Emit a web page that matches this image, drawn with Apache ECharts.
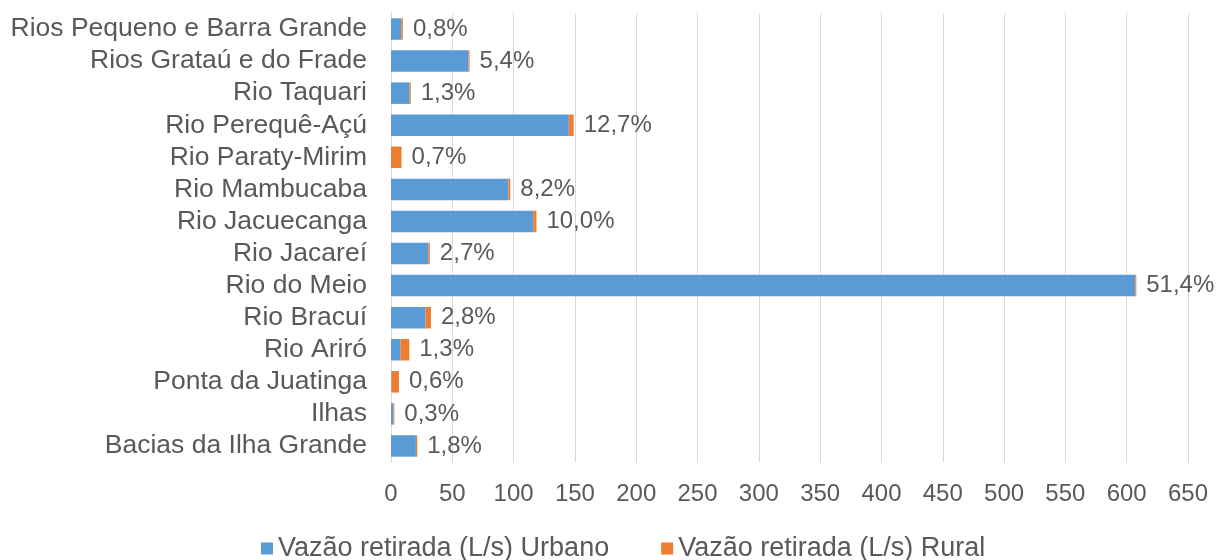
<!DOCTYPE html>
<html>
<head>
<meta charset="utf-8">
<script src="https://cdn.jsdelivr.net/npm/echarts@6/dist/echarts.min.js"></script>
<style>
  html, body { margin: 0; padding: 0; background: #fff; }
  #chart { width: 1220px; height: 560px; }
</style>
</head>
<body>
<div id="chart"></div>
<script>
// bacias, de cima para baixo
var categories = [
  'Rios Pequeno e Barra Grande',
  'Rios Grataú e do Frade',
  'Rio Taquari',
  'Rio Perequê-Açú',
  'Rio Paraty-Mirim',
  'Rio Mambucaba',
  'Rio Jacuecanga',
  'Rio Jacareí',
  'Rio do Meio',
  'Rio Bracuí',
  'Rio Ariró',
  'Ponta da Juatinga',
  'Ilhas',
  'Bacias da Ilha Grande'
];
// vazão retirada (L/s)
var urbano = [8.5, 63.3, 15.2, 145, 0, 95.7, 116, 30.7, 607, 28.2, 7.8, 0.3, 1.9, 20.3];
var rural  = [1.2, 0.8, 0.9, 4.0, 8.6, 1.6, 2.6, 1.0, 0.8, 4.4, 7.1, 6.2, 0.8, 1.1];
// rótulos de percentual
var pctLabels = ['0,8%', '5,4%', '1,3%', '12,7%', '0,7%', '8,2%', '10,0%', '2,7%',
  '51,4%', '2,8%', '1,3%', '0,6%', '0,3%', '1,8%'];
var xTicks = { min: 0, max: 650, step: 50 };

var txt = '#595959';
var font = '"Liberation Sans", Arial, sans-serif';

var myChart = echarts.init(document.getElementById('chart'));
var option = {
  animation: false,
  textStyle: { fontFamily: font },
  grid: { left: 391, right: 32, top: 13, bottom: 98, containLabel: false },
  legend: {
    bottom: -7,
    left: 256,
    itemWidth: 12,
    itemHeight: 12,
    itemGap: 52,
    icon: 'rect',
    textStyle: { color: txt, fontSize: 27, fontFamily: font },
    data: ['Vazão retirada (L/s) Urbano', 'Vazão retirada (L/s) Rural']
  },
  xAxis: {
    type: 'value',
    min: xTicks.min,
    max: xTicks.max,
    interval: xTicks.step,
    axisLine: { show: false },
    axisTick: { show: false },
    axisLabel: { color: txt, fontSize: 24, margin: 20, fontFamily: font },
    splitLine: { lineStyle: { color: '#d9d9d9', width: 1 } }
  },
  yAxis: {
    type: 'category',
    inverse: true,
    data: categories,
    axisLine: { show: true, lineStyle: { color: '#d9d9d9' } },
    axisTick: { show: false },
    axisLabel: { color: txt, fontSize: 26.5, margin: 24, interval: 0, fontFamily: font }
  },
  series: [
    {
      name: 'Vazão retirada (L/s) Urbano',
      type: 'bar',
      stack: 'total',
      barCategoryGap: '33%',
      itemStyle: { color: '#5b9bd5' },
      data: urbano
    },
    {
      name: 'Vazão retirada (L/s) Rural',
      type: 'bar',
      stack: 'total',
      barCategoryGap: '33%',
      itemStyle: { color: '#ed7d31' },
      label: {
        show: true,
        position: 'right',
        distance: 10,
        color: txt,
        fontSize: 24,
        fontFamily: font,
        formatter: function (p) { return pctLabels[p.dataIndex]; }
      },
      data: rural
    }
  ]
};
myChart.setOption(option);
</script>
</body>
</html>
